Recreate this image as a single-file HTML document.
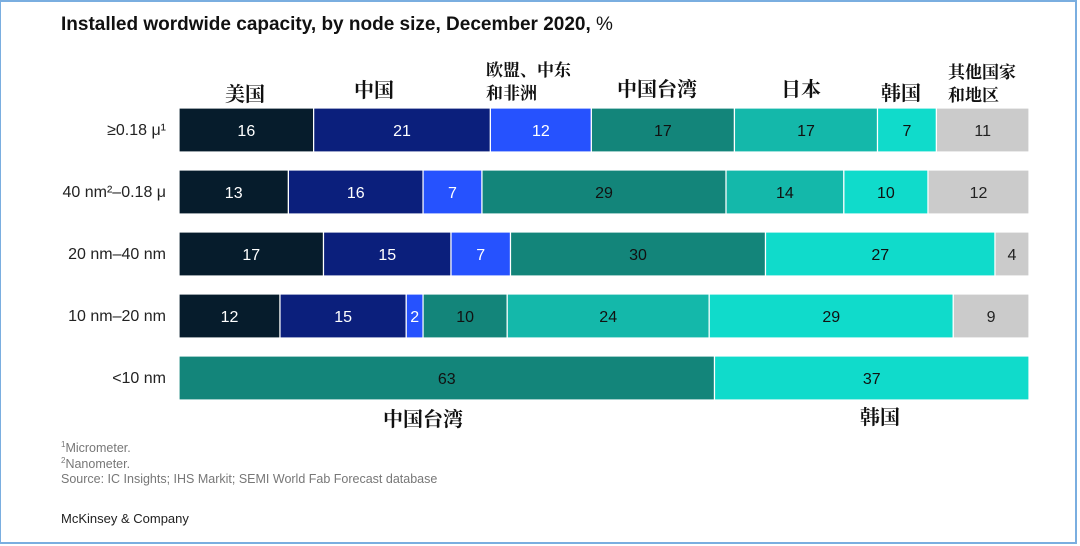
<!DOCTYPE html>
<html><head><meta charset="utf-8">
<style>
html,body{margin:0;padding:0;background:#fff;}
#frame{position:absolute;left:0;top:0;width:1074px;height:540px;border:2px solid #7aaee0;border-left:1px solid #7aaee0;background:#fff;overflow:hidden;}
.t{position:absolute;font-family:"Liberation Sans",sans-serif;}
.cn{position:absolute;font-family:"Liberation Serif","Noto Serif CJK SC",serif;font-weight:bold;font-size:20px;color:#111;white-space:nowrap;line-height:23px;}
.rl{position:absolute;font-family:"Liberation Sans",sans-serif;font-size:16px;color:#222;text-align:right;width:160px;left:6px;}
.fn{position:absolute;left:61px;font-family:"Liberation Sans",sans-serif;font-size:12.5px;color:#777;}
</style></head><body>
<div id="frame"></div>
<div class="t" style="left:61px;top:14px;font-size:19px;font-weight:bold;color:#111;">Installed wordwide capacity, by node size, December 2020, <span style="font-weight:normal">%</span></div>
<div class="cn" style="left:225px;top:84px;">美国</div>
<div class="cn" style="left:354px;top:80px;">中国</div>
<div class="cn" style="left:486px;top:59px;font-size:17px;">欧盟、中东<br>和非洲</div>
<div class="cn" style="left:617px;top:79px;">中国台湾</div>
<div class="cn" style="left:781px;top:79px;">日本</div>
<div class="cn" style="left:881px;top:83px;">韩国</div>
<div class="cn" style="left:948px;top:61px;font-size:17px;">其他国家<br>和地区</div>
<div class="cn" style="left:383px;top:409px;">中国台湾</div>
<div class="cn" style="left:860px;top:407px;">韩国</div>
<svg id="chart" width="1080" height="546" style="position:absolute;left:0;top:0;"></svg>
<div class="fn" style="top:440px;"><sup style="font-size:8px">1</sup>Micrometer.</div>
<div class="fn" style="top:456px;"><sup style="font-size:8px">2</sup>Nanometer.</div>
<div class="fn" style="top:472px;">Source: IC Insights; IHS Markit; SEMI World Fab Forecast database</div>
<div class="t" style="left:61px;top:511px;font-size:13px;color:#222;">McKinsey &amp; Company</div>
<script>
const categories=["≥0.18 μ¹","40 nm²–0.18 μ","20 nm–40 nm","10 nm–20 nm","<10 nm"];
const us=[16,13,17,12,0];
const china=[21,16,15,15,0];
const emea=[12,7,7,2,0];
const taiwan=[17,29,30,10,63];
const japan=[17,14,0,24,0];
const korea=[7,10,27,29,37];
const other=[11,12,4,9,0];
const series=[us,china,emea,taiwan,japan,korea,other];
const seriesNames=["us","china","emea","taiwan","japan","korea","other"];
const colors=["#061c2c","#0b1f7c","#2652fe","#13857a","#14b8aa","#10dbcb","#cbcbcb"];
const textColors=["#fff","#fff","#fff","#111","#111","#111","#222"];
const svg=document.getElementById('chart');
const NS="http://www.w3.org/2000/svg";
const x0=179,x1=1029,y0=108,step=62,bh=44;
function rowY(i){return y0+i*step;}
function xScale(v,total){return v/total*(x1-x0);}
categories.forEach((c,i)=>{
  const lab=document.createElement('div');
  lab.className='rl';
  lab.style.top=(rowY(i)+14)+'px';
  lab.textContent=c;
  
  
  document.body.appendChild(lab);
  let total=0;series.forEach(s=>total+=s[i]);
  let x=x0;
  series.forEach((s,k)=>{
    const v=s[i];if(!v)return;
    const w=xScale(v,total);
    const r=document.createElementNS(NS,'rect');
    r.setAttribute('x',x);r.setAttribute('y',rowY(i));
    r.setAttribute('width',w);r.setAttribute('height',bh);
    r.setAttribute('fill',colors[k]);r.setAttribute('stroke','#fff');r.setAttribute('stroke-width','1.2');
    
    
    svg.appendChild(r);
    const t=document.createElementNS(NS,'text');
    t.setAttribute('x',x+w/2);t.setAttribute('y',rowY(i)+bh/2+6);
    t.setAttribute('text-anchor','middle');t.setAttribute('font-family','Liberation Sans, sans-serif');
    t.setAttribute('font-size','16');t.setAttribute('fill',textColors[k]);
    t.textContent=v;
    
    
    svg.appendChild(t);
    x+=w;
  });
});
</script>
</body></html>
